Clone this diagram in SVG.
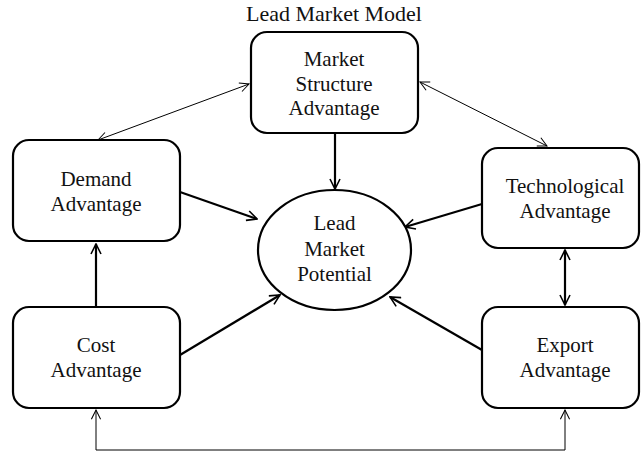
<svg xmlns="http://www.w3.org/2000/svg" width="641" height="456" viewBox="0 0 641 456">
<defs>
<marker id="ah" viewBox="0 0 12 12" refX="11" refY="6" markerWidth="12" markerHeight="12" markerUnits="userSpaceOnUse" orient="auto-start-reverse">
<path d="M1,1 L11,6 L1,11" fill="none" stroke="#000" stroke-width="1.6"/>
</marker>
<marker id="ahs" viewBox="0 0 12 12" refX="11" refY="6" markerWidth="11" markerHeight="11" markerUnits="userSpaceOnUse" orient="auto-start-reverse">
<path d="M1,1 L11,6 L1,11" fill="none" stroke="#000" stroke-width="1.1"/>
</marker>
</defs>
<style>
.box{fill:#fff;stroke:#000;stroke-width:2.2}
.t{font-family:"Liberation Serif","Times New Roman",serif;font-size:21px;text-anchor:middle;fill:#111}
.title{font-family:"Liberation Serif","Times New Roman",serif;font-size:22px;text-anchor:middle;fill:#111}
.thick{fill:none;stroke:#000;stroke-width:2.2}
.thin{fill:none;stroke:#000;stroke-width:1}
</style>
<rect width="641" height="456" fill="#fff"/>
<text class="title" x="334" y="21">Lead Market Model</text>
<g id="connectors">
<line class="thick" x1="335" y1="133" x2="335" y2="189" marker-end="url(#ah)"/>
<line class="thick" x1="180" y1="192" x2="257" y2="219" marker-end="url(#ah)"/>
<line class="thick" x1="482" y1="204" x2="405" y2="227" marker-end="url(#ah)"/>
<line class="thick" x1="180" y1="355" x2="280" y2="295" marker-end="url(#ah)"/>
<line class="thick" x1="482" y1="350" x2="390" y2="297" marker-end="url(#ah)"/>
<line class="thick" x1="96" y1="306" x2="96" y2="244" marker-end="url(#ah)"/>
<line class="thick" x1="565" y1="250" x2="565" y2="305" marker-start="url(#ah)" marker-end="url(#ah)"/>
<line class="thin" x1="249" y1="84" x2="98" y2="140" marker-start="url(#ahs)" marker-end="url(#ahs)"/>
<line class="thin" x1="420" y1="82" x2="547" y2="146" marker-start="url(#ahs)" marker-end="url(#ahs)"/>
<polyline class="thin" points="96,410 96,450 565,450 565,410" marker-start="url(#ahs)" marker-end="url(#ahs)"/>
</g>
<g id="market-structure">
<rect class="box" x="251" y="32" width="167" height="101" rx="16"/>
<text class="t" x="334" y="66">Market</text>
<text class="t" x="334" y="91">Structure</text>
<text class="t" x="334" y="115">Advantage</text>
</g>
<g id="demand">
<rect class="box" x="13" y="140" width="167" height="101" rx="16"/>
<text class="t" x="96" y="186">Demand</text>
<text class="t" x="96" y="211">Advantage</text>
</g>
<g id="technological">
<rect class="box" x="482" y="148" width="157" height="100" rx="16"/>
<text class="t" x="565" y="193">Technological</text>
<text class="t" x="565" y="218">Advantage</text>
</g>
<g id="cost">
<rect class="box" x="13" y="307" width="167" height="101" rx="16"/>
<text class="t" x="96" y="352">Cost</text>
<text class="t" x="96" y="377">Advantage</text>
</g>
<g id="export">
<rect class="box" x="482" y="307" width="157" height="101" rx="16"/>
<text class="t" x="565" y="352">Export</text>
<text class="t" x="565" y="377">Advantage</text>
</g>
<g id="lead-market-potential">
<ellipse class="box" cx="334.5" cy="250" rx="76.5" ry="60"/>
<text class="t" x="334.5" y="230">Lead</text>
<text class="t" x="334.5" y="256">Market</text>
<text class="t" x="334.5" y="281">Potential</text>
</g>
</svg>
